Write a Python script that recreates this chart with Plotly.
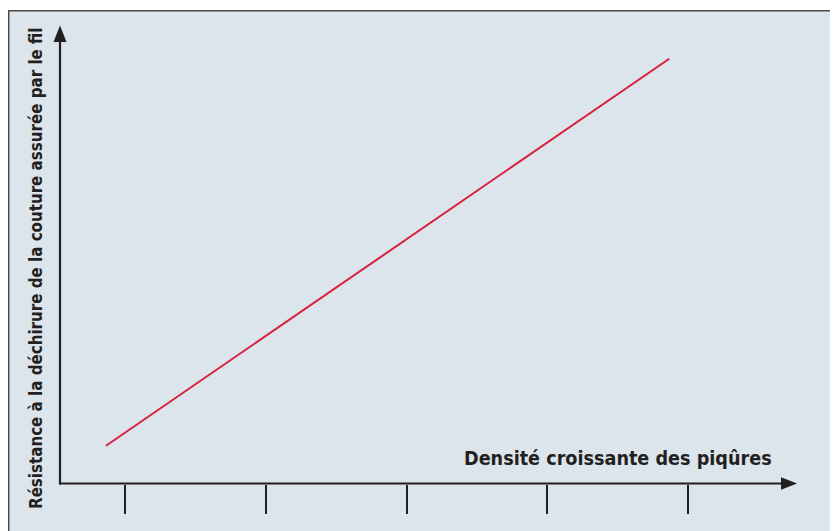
import plotly.graph_objects as go

# ---- data ----
density_ticks = [1, 2, 3, 4, 5]
density_tick_labels = ["", "", "", "", ""]
line_density = [0.865, 4.867]
line_resistance = [0.378, 4.248]

x_title = "Densité croissante des piqûres"
y_title = "Résistance à la déchirure de la couture assurée par le fil"

# ---- layout calibration (page pixels; page body has an 8px margin) ----
W, H = 830, 523
OFF = 8.0
PX_X1, PX_PER_X = 125.0, 140.75      # page pixel of x=1, pixels per x unit
PX_Y0, PX_PER_Y = 483.5, 100.0       # page pixel of y=0, pixels per y unit

def xd(px):
    return 1 + (px - PX_X1) / PX_PER_X

def yd(py):
    return (PX_Y0 - py) / PX_PER_Y

BG = "#dce5ec"
INK = "#231f20"
RED = "#d8203f"
FONT = "Liberation Sans Narrow, DejaVu Sans Condensed, Arial Narrow, sans-serif"

fig = go.Figure()
fig.add_trace(go.Scatter(x=line_density, y=line_resistance, mode="lines",
                         line=dict(color=RED, width=2), hoverinfo="skip",
                         showlegend=False))

shapes = []
# background panel with border (top & left visible)
shapes.append(dict(type="rect", xref="x", yref="y", layer="below",
                   x0=xd(8.7), x1=xd(860), y0=yd(10.7), y1=yd(560),
                   fillcolor=BG, line=dict(color="#4a4a4a", width=1.5)))
# y axis line
shapes.append(dict(type="line", xref="x", yref="y", x0=xd(60), x1=xd(60),
                   y0=yd(484.5), y1=yd(40), line=dict(color=INK, width=2.2)))
# x axis line
shapes.append(dict(type="line", xref="x", yref="y", x0=xd(59), x1=xd(784),
                   y0=yd(483.5), y1=yd(483.5), line=dict(color=INK, width=2.2)))
# arrow heads
shapes.append(dict(type="path", xref="x", yref="y",
                   path=f"M {xd(60)} {yd(25.5)} L {xd(53.5)} {yd(42)} L {xd(66.5)} {yd(42)} Z",
                   fillcolor=INK, line=dict(width=0)))
shapes.append(dict(type="path", xref="x", yref="y",
                   path=f"M {xd(797)} {yd(483.5)} L {xd(781)} {yd(477.3)} L {xd(781)} {yd(489.7)} Z",
                   fillcolor=INK, line=dict(width=0)))

fig.update_layout(
    width=W, height=H,
    margin=dict(l=0, r=0, t=0, b=0),
    paper_bgcolor=BG, plot_bgcolor="white",
    shapes=shapes,
    xaxis=dict(range=[xd(OFF), xd(OFF + W)], showgrid=False, zeroline=False,
               showline=False, tickvals=density_ticks,
               ticktext=density_tick_labels, ticks="outside", ticklen=29,
               tickwidth=2.2, tickcolor=INK, anchor="free",
               position=(H + OFF - PX_Y0) / H, fixedrange=True),
    yaxis=dict(range=[yd(OFF + H), yd(OFF)], showgrid=False, zeroline=False,
               showline=False, showticklabels=False, ticks="",
               fixedrange=True),
    annotations=[
        dict(text=f"<b>{x_title}</b>", xref="x", yref="y", x=xd(773.5),
             y=yd(458), xanchor="right", yanchor="middle", showarrow=False,
             font=dict(family=FONT, size=19.6, color=INK)),
        dict(text=f"<b>{y_title}</b>", xref="x", yref="y", x=xd(36),
             y=yd(269), textangle=-90, xanchor="center", yanchor="middle",
             showarrow=False, font=dict(family=FONT, size=16.8, color=INK)),
    ],
)

fig.write_html("out.html")
